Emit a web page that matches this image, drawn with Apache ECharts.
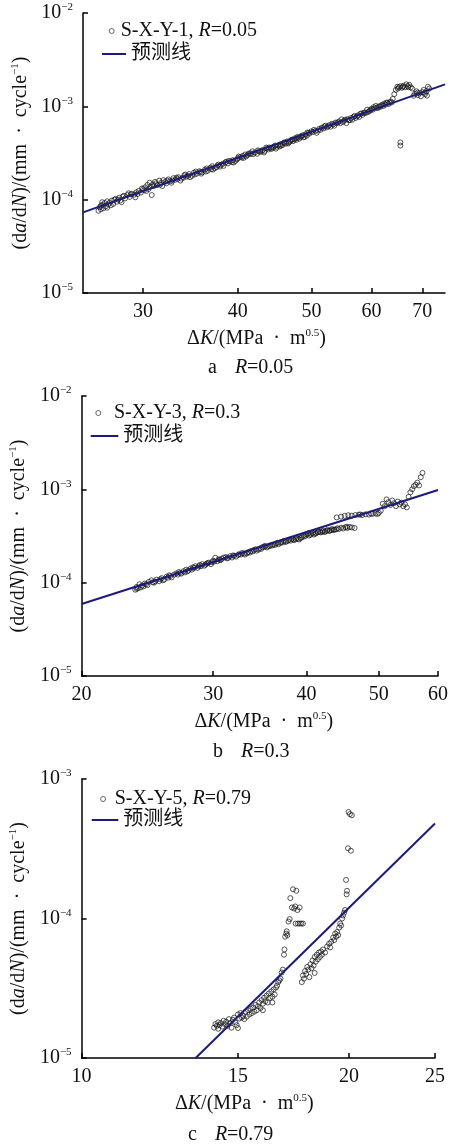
<!DOCTYPE html>
<html><head><meta charset="utf-8">
<script src="https://cdn.jsdelivr.net/npm/echarts@6/dist/echarts.min.js"></script>
<style>html,body{margin:0;padding:0;background:#fff}#c{width:452px;height:1147px}</style>
</head><body><div id="c"></div>
<script>
// ---------- DATA ----------
// Panel a: S-X-Y-1, R=0.05   [ΔK (MPa·m^0.5), da/dN (mm/cycle)]
const aPoints = [[26.2,7.6e-5],[26.3,8.3e-5],[26.4,7.9e-5],[26.5,8.8e-5],[26.6,8.1e-5],[26.7,9.2e-5],[26.8,8.5e-5],[26.9,9.6e-5],[27.0,8.9e-5],[27.1,9.3e-5],
[27.3,9.8e-5],[27.4,9.0e-5],[27.6,1.02e-4],[27.7,9.5e-5],[27.9,1.05e-4],[28.0,9.8e-5],[28.2,1.08e-4],[28.4,1.03e-4],[28.6,1.12e-4],[28.8,1.07e-4],
[29.0,1.16e-4],[29.2,1.13e-4],[29.4,1.2e-4],[29.6,1.24e-4],[29.8,1.19e-4],[30.0,1.3e-4],[30.2,1.36e-4],[30.4,1.44e-4],[30.6,1.52e-4],[30.8,1.12e-4],
[30.9,1.46e-4],[31.1,1.55e-4],[31.3,1.43e-4],[31.5,1.6e-4],[31.7,1.52e-4],[31.9,1.62e-4],[32.1,1.56e-4],[32.4,1.65e-4],[32.6,1.58e-4],[32.9,1.7e-4],
[33.1,1.64e-4],[33.4,1.74e-4],[33.7,1.68e-4],[34.0,1.82e-4],[34.2,1.76e-4],[34.5,1.88e-4],[34.8,1.8e-4],[35.0,1.95e-4],[35.3,1.9e-4],[35.6,2.02e-4],
[35.9,1.96e-4],[36.2,2.1e-4],[36.5,2.04e-4],[36.8,2.2e-4],[37.0,2.28e-4],[37.3,2.18e-4],[37.6,2.32e-4],[37.9,2.26e-4],[38.2,2.42e-4],[38.5,2.5e-4],
[38.8,2.45e-4],[39.1,2.58e-4],[39.4,2.65e-4],[39.7,2.6e-4],[40.0,2.78e-4],[40.3,2.86e-4],[40.6,2.95e-4],[40.9,3.05e-4],[41.2,3.0e-4],[41.5,3.15e-4],
[41.8,3.3e-4],[42.1,3.2e-4],[42.4,3.1e-4],[42.8,3.25e-4],[43.1,3.4e-4],[43.4,3.33e-4],[43.7,3.55e-4],[44.0,3.62e-4],[44.3,3.5e-4],[44.6,3.7e-4],
[44.9,3.52e-4],[45.2,3.8e-4],[45.5,3.92e-4],[45.8,3.85e-4],[46.1,4.05e-4],[46.4,4.2e-4],[46.7,4.12e-4],[47.0,4.35e-4],[47.3,4.25e-4],[47.6,4.55e-4],
[47.9,4.7e-4],[48.2,4.5e-4],[48.5,4.8e-4],[48.8,4.65e-4],[49.1,5.0e-4],[49.4,5.25e-4],[49.7,5.1e-4],[50.0,5.4e-4],[50.4,5.6e-4],[50.8,5.2e-4],
[51.2,5.75e-4],[51.6,5.9e-4],[52.0,6.1e-4],[52.4,5.95e-4],[52.8,6.3e-4],[53.2,6.5e-4],[53.6,6.2e-4],[54.0,6.6e-4],[54.4,6.9e-4],[54.8,7.25e-4],
[55.2,7.0e-4],[55.6,6.6e-4],[56.0,7.1e-4],[56.4,7.5e-4],[56.8,7.7e-4],[57.2,7.5e-4],[57.6,8.0e-4],[58.0,8.3e-4],[58.4,8.1e-4],[58.8,8.6e-4],
[59.2,9.2e-4],[59.6,8.9e-4],[60.0,9.4e-4],[60.4,9.8e-4],[60.8,1.01e-3],[61.2,9.6e-4],[61.6,9.9e-4],[62.0,1.04e-3],[62.4,1.07e-3],[62.8,1.1e-3],
[63.2,1.06e-3],[63.6,1.13e-3],[64.0,1.2e-3],[64.3,1.35e-3],[64.6,1.5e-3],[64.9,1.62e-3],[65.2,1.6e-3],[65.5,1.64e-3],[65.5,3.8e-4],[65.5,4.1e-4],
[65.8,1.58e-3],[66.1,1.66e-3],[66.4,1.6e-3],[66.7,1.72e-3],[67.0,1.65e-3],[67.3,1.7e-3],[67.6,1.6e-3],[67.9,1.55e-3],[68.2,1.3e-3],[68.5,1.36e-3],
[68.8,1.45e-3],[69.1,1.32e-3],[69.4,1.38e-3],[69.7,1.28e-3],[70.0,1.42e-3],[70.3,1.5e-3],[70.6,1.35e-3],[70.9,1.45e-3],[71.2,1.62e-3],[71.5,1.55e-3],
[26.5,9.4e-5],[27.2,8.7e-5],[27.8,1.0e-4],[28.3,1.1e-4],[28.9,1.14e-4],[29.5,1.15e-4],[30.1,1.26e-4],[30.5,1.3e-4],[31.0,1.4e-4],[31.6,1.45e-4],
[32.2,1.5e-4],[32.8,1.6e-4],[33.3,1.66e-4],[33.9,1.72e-4],[34.4,1.8e-4],[35.1,1.86e-4],[35.7,1.98e-4],[36.3,2.0e-4],[36.9,2.12e-4],[37.5,2.22e-4],
[38.0,2.36e-4],[38.6,2.55e-4],[39.3,2.52e-4],[39.9,2.7e-4],[40.5,2.82e-4],[41.0,2.9e-4],[41.6,3.08e-4],[42.6,3.3e-4],[43.3,3.2e-4],[43.9,3.45e-4],
[44.5,3.6e-4],[45.0,3.68e-4],[45.6,3.78e-4],[46.3,3.98e-4],[46.9,4.2e-4],[47.5,4.4e-4],[48.0,4.6e-4],[48.7,4.9e-4],[49.3,4.85e-4],[50.2,5.3e-4],
[51.0,5.5e-4],[51.9,5.8e-4],[52.6,6.1e-4],[53.4,6.4e-4],[54.2,6.75e-4],[55.0,6.8e-4],[55.8,7.3e-4],[56.6,7.2e-4],[57.4,7.8e-4],[58.2,8.4e-4],
[59.0,8.5e-4],[59.8,9.1e-4],[60.6,9.5e-4],[61.4,1.0e-3],[62.2,1.01e-3],[63.0,1.09e-3],[63.8,1.1e-3],[65.0,1.55e-3],[66.0,1.62e-3],[67.1,1.6e-3],
[69.0,1.4e-3],[70.5,1.4e-3],[71.0,1.3e-3],
[26.4,8.6e-5],[26.9,8.2e-5],[27.5,1.0e-4],[28.1,9.4e-5],[28.7,1.17e-4],[29.3,1.06e-4],[29.9,1.32e-4],[30.3,1.24e-4],[30.7,1.38e-4],[31.2,1.5e-4],
[31.8,1.4e-4],[32.3,1.6e-4],[32.7,1.52e-4],[33.2,1.72e-4],[33.6,1.6e-4],[34.1,1.86e-4],[34.6,1.74e-4],[35.2,2.0e-4],[35.8,1.9e-4],[36.4,2.16e-4],
[37.1,2.1e-4],[37.7,2.38e-4],[38.3,2.3e-4],[38.9,2.6e-4],[39.5,2.5e-4],[40.1,2.9e-4],[40.7,2.8e-4],[41.3,3.1e-4],[41.9,3.08e-4],[42.5,3.38e-4],
[43.0,3.3e-4],[43.6,3.62e-4],[44.2,3.58e-4],[44.8,3.8e-4],[45.4,3.72e-4],[46.0,4.1e-4],[46.6,4.0e-4],[47.2,4.42e-4],[47.8,4.38e-4],[48.4,4.72e-4],
[49.0,4.7e-4],[49.6,5.2e-4],[50.6,5.45e-4],[51.4,5.6e-4],[52.2,6.2e-4],[53.0,6.05e-4],[53.8,6.7e-4],[54.6,6.6e-4],[55.4,7.2e-4],[56.2,7.1e-4],
[57.0,7.9e-4],[57.8,7.7e-4],[58.6,8.5e-4],[59.4,8.7e-4],[60.2,9.2e-4],[61.0,9.7e-4],[61.8,1.02e-3],[62.6,1.04e-3],[63.4,1.1e-3]];
const aLine = [[25,7.3e-5],[75,1.72e-3]];
const aXTicks = [30,40,50,60,70];
const aYTicks = [1e-5,1e-4,1e-3,1e-2];
const aName = 'S-X-Y-1, R=0.05';

// Panel b: S-X-Y-3, R=0.3
const bPoints = [[23.6,8.4e-5],[23.7,9.0e-5],[23.8,8.7e-5],[23.9,9.6e-5],[24.0,8.9e-5],[24.1,9.3e-5],[24.3,9.8e-5],[24.5,9.4e-5],[24.6,1.02e-4],[24.8,1.06e-4],
[25.0,1.0e-4],[25.2,1.08e-4],[25.4,1.04e-4],[25.6,1.12e-4],[25.8,1.08e-4],[26.0,1.16e-4],[26.2,1.2e-4],[26.4,1.14e-4],[26.6,1.22e-4],[26.8,1.26e-4],
[27.0,1.3e-4],[27.2,1.25e-4],[27.4,1.33e-4],[27.6,1.38e-4],[27.8,1.35e-4],[28.0,1.42e-4],[28.2,1.46e-4],[28.4,1.5e-4],[28.6,1.44e-4],[28.8,1.55e-4],
[29.0,1.58e-4],[29.2,1.52e-4],[29.4,1.6e-4],[29.6,1.64e-4],[29.8,1.58e-4],[30.0,1.72e-4],[30.2,1.85e-4],[30.4,1.7e-4],[30.6,1.76e-4],[30.8,1.8e-4],
[31.0,1.86e-4],[31.3,1.82e-4],[31.6,1.92e-4],[31.9,1.96e-4],[32.2,1.9e-4],[32.5,2.02e-4],[32.8,2.08e-4],[33.1,2.0e-4],[33.4,2.12e-4],[33.7,2.18e-4],
[34.0,2.24e-4],[34.3,2.2e-4],[34.6,2.32e-4],[34.9,2.4e-4],[35.2,2.48e-4],[35.5,2.44e-4],[35.8,2.52e-4],[36.1,2.56e-4],[36.4,2.62e-4],[36.7,2.58e-4],
[37.0,2.72e-4],[37.3,2.8e-4],[37.6,2.76e-4],[37.9,2.88e-4],[38.2,2.95e-4],[38.5,2.85e-4],[38.8,3.0e-4],[39.1,2.9e-4],[39.4,3.05e-4],[39.7,3.12e-4],
[40.0,3.3e-4],[40.3,3.2e-4],[40.6,3.35e-4],[40.9,3.28e-4],[41.2,3.4e-4],[41.5,3.5e-4],[41.8,3.45e-4],[42.1,3.6e-4],[42.4,3.55e-4],[42.7,3.68e-4],
[43.0,3.62e-4],[43.3,3.75e-4],[43.6,3.7e-4],[43.9,5.0e-4],[44.0,3.82e-4],[44.2,3.76e-4],[44.5,3.88e-4],[44.8,3.8e-4],[45.1,3.92e-4],[45.4,3.86e-4],
[45.7,3.95e-4],[46.0,3.9e-4],[46.4,3.85e-4],[44.5,5.1e-4],[45.0,5.2e-4],[45.5,5.28e-4],[46.0,5.22e-4],[46.5,5.3e-4],[47.0,5.35e-4],[47.5,5.3e-4],
[48.0,5.4e-4],[48.5,5.36e-4],[49.0,5.45e-4],[49.5,5.5e-4],[50.0,5.6e-4],[50.3,5.9e-4],[50.6,7.0e-4],[50.9,6.6e-4],[51.2,7.8e-4],[51.5,7.3e-4],
[51.8,6.8e-4],[52.1,7.6e-4],[52.4,7.1e-4],[52.7,6.6e-4],[53.0,7.4e-4],[53.3,6.9e-4],[53.6,7.2e-4],[53.9,6.6e-4],[54.2,6.9e-4],[54.5,6.4e-4],
[54.8,8.3e-4],[55.1,9.3e-4],[55.4,1.0e-3],[55.7,1.08e-3],[56.0,1.12e-3],[56.3,1.18e-3],[56.6,1.1e-3],[56.9,1.35e-3],[57.2,1.5e-3],
[24.2,9.1e-5],[24.9,1.01e-4],[25.5,1.09e-4],[26.1,1.13e-4],[26.9,1.22e-4],[27.5,1.29e-4],[28.1,1.38e-4],[28.7,1.5e-4],[29.3,1.56e-4],[29.9,1.66e-4],
[30.5,1.78e-4],[31.2,1.88e-4],[31.8,1.86e-4],[32.4,1.98e-4],[33.0,2.06e-4],[33.6,2.1e-4],[34.2,2.28e-4],[34.8,2.3e-4],[35.4,2.38e-4],[36.0,2.5e-4],
[36.6,2.68e-4],[37.2,2.7e-4],[37.8,2.82e-4],[38.4,2.92e-4],[39.0,2.96e-4],[39.6,3.2e-4],[40.2,3.38e-4],[40.8,3.42e-4],[41.4,3.46e-4],[42.0,3.52e-4],
[42.6,3.6e-4],[43.2,3.66e-4],[43.8,3.72e-4],[45.3,3.98e-4],[47.2,5.38e-4],[48.8,5.5e-4],[49.8,5.45e-4],
[23.7,8.6e-5],[24.4,9.6e-5],[25.1,1.03e-4],[25.7,1.06e-4],[26.3,1.18e-4],[27.1,1.27e-4],[27.7,1.32e-4],[28.3,1.44e-4],[28.9,1.5e-4],[29.5,1.62e-4],
[30.1,1.68e-4],[30.7,1.74e-4],[31.4,1.84e-4],[32.0,1.94e-4],[32.7,2.0e-4],[33.3,2.06e-4],[33.9,2.16e-4],[34.5,2.26e-4],[35.1,2.42e-4],[35.7,2.46e-4],
[36.3,2.54e-4],[36.9,2.66e-4],[37.5,2.74e-4],[38.1,2.82e-4],[38.7,2.92e-4],[39.3,3.0e-4],[39.9,3.18e-4],[40.5,3.26e-4],[41.1,3.34e-4],[41.7,3.5e-4],
[42.3,3.48e-4],[42.9,3.58e-4],[43.5,3.66e-4]];
const bLine = [[20,5.9e-5],[60,9.85e-4]];
const bXTicks = [20,30,40,50,60];
const bYTicks = [1e-5,1e-4,1e-3,1e-2];
const bName = 'S-X-Y-3, R=0.3';

// Panel c: S-X-Y-5, R=0.79
const cPoints = [[14.1,1.65e-5],[14.15,1.75e-5],[14.2,1.7e-5],[14.25,1.8e-5],[14.3,1.72e-5],[14.35,1.78e-5],[14.4,1.68e-5],[14.45,1.85e-5],[14.5,1.75e-5],[14.55,1.82e-5],
[14.6,1.7e-5],[14.65,1.9e-5],[14.7,1.78e-5],[14.75,1.65e-5],[14.8,1.88e-5],[14.85,1.95e-5],[14.9,1.8e-5],[14.95,1.72e-5],[15.0,1.64e-5],[15.0,2.05e-5],
[15.05,1.92e-5],[15.1,2.1e-5],[15.15,1.95e-5],[15.2,2.0e-5],[15.3,2.15e-5],[15.35,1.98e-5],[15.4,2.2e-5],[15.45,2.05e-5],[15.5,2.25e-5],[15.55,2.1e-5],
[15.6,2.3e-5],[15.65,2.15e-5],[15.7,2.4e-5],[15.75,2.2e-5],[15.8,2.35e-5],[15.85,2.5e-5],[15.9,2.28e-5],[15.95,2.6e-5],[16.0,2.45e-5],[16.05,2.7e-5],
[16.1,2.55e-5],[16.15,2.8e-5],[16.2,2.5e-5],[16.25,2.9e-5],[16.3,2.7e-5],[16.35,3.0e-5],[16.4,2.75e-5],[16.45,3.1e-5],[16.5,2.85e-5],[16.55,3.2e-5],
[16.6,3.3e-5],[16.65,3.5e-5],[16.7,3.6e-5],[16.75,3.7e-5],[16.8,4.1e-5],[16.85,4.3e-5],[16.9,5.5e-5],[16.92,6.0e-5],[16.95,7.4e-5],[17.0,7.8e-5],
[17.02,8.1e-5],[17.05,7.6e-5],[17.1,9.5e-5],[17.15,9.9e-5],[17.18,1.4e-4],[17.25,1.2e-4],[17.3,1.62e-4],[17.35,1.18e-4],[17.4,1.22e-4],[17.42,9.2e-5],
[17.45,1.58e-4],[17.5,1.15e-4],[17.52,9.2e-5],[17.6,9.2e-5],[17.6,1.2e-4],[17.68,9.2e-5],[17.75,9.2e-5],
[17.7,3.5e-5],[17.75,3.9e-5],[17.8,3.7e-5],[17.85,4.2e-5],[17.9,4.0e-5],[17.95,4.5e-5],[18.0,4.3e-5],[18.05,3.8e-5],[18.1,4.7e-5],[18.15,4.4e-5],
[18.2,5.0e-5],[18.25,4.6e-5],[18.3,5.3e-5],[18.35,4.9e-5],[18.4,5.5e-5],[18.45,5.1e-5],[18.5,5.7e-5],[18.55,5.3e-5],[18.6,5.8e-5],[18.65,5.5e-5],
[18.7,6.0e-5],[18.8,5.7e-5],[18.9,6.3e-5],[19.0,6.6e-5],[19.05,6.2e-5],[19.1,6.8e-5],[19.2,7.3e-5],[19.25,7.0e-5],[19.3,7.8e-5],[19.35,7.4e-5],
[19.4,8.0e-5],[19.45,7.6e-5],[19.5,8.6e-5],[19.55,9.2e-5],[19.6,8.9e-5],[19.65,1.0e-4],[19.7,1.05e-4],[19.75,1.1e-4],[19.8,1.15e-4],[19.85,1.89e-4],
[19.9,1.58e-4],[19.88,1.49e-4],[19.95,3.19e-4],[20.1,3.06e-4],[19.98,5.8e-4],[20.05,5.6e-4],[20.15,5.5e-4],
[18.3,4.07e-5],[16.0,2.2e-5],[16.4,2.5e-5],[15.25,1.9e-5],[14.25,1.62e-5]];
const cLine = [[13.44,1e-5],[25,4.8e-4]];
const cXTicks = [10,15,20,25];
const cYTicks = [1e-5,1e-4,1e-3];
const cName = 'S-X-Y-5, R=0.79';

const lineName = '预测线';
const captionLetters = ['a','b','c'];
const captionR = ['0.05','0.3','0.79'];

// ---------- STYLE / LAYOUT ----------
const SERIF = '"Liberation Serif","Noto Sans CJK SC",serif';
const INK = '#111';
const rich = {
  n: {fontFamily: SERIF, fontSize: 20, lineHeight: 22, color: INK, fontWeight: 'normal'},
  i: {fontFamily: SERIF, fontSize: 20, lineHeight: 22, color: INK, fontWeight: 'normal', fontStyle: 'italic'},
  sup: {fontFamily: SERIF, fontSize: 11, lineHeight: 17, color: INK, fontWeight: 'normal', verticalAlign: 'top'},
  g: {fontFamily: SERIF, fontSize: 20, lineHeight: 22, fontWeight: 'normal', width: 18}
};
const LINE_COLOR = '#1b1b7d';
const layout = [
  {grid:{left:83,top:13,width:362,height:280}, xMin:25, xMax:75, yMin:1e-5, yMax:1e-2,
   points:aPoints, line:aLine, xTicks:aXTicks, yTicks:aYTicks, name:aName,
   yNameGap:51, xNameGap:35, xNamePad:[0,15,0,0], cap:{left:208,top:357},
   lg1:{left:108.7, top:21, w:8}, lg2:{left:102, top:44, w:24}},
  {grid:{left:77,top:396,width:361,height:280}, xMin:20, xMax:60, yMin:1e-5, yMax:1e-2,
   points:bPoints, line:bLine, xTicks:bXTicks, yTicks:bYTicks, name:bName,
   yNameGap:47, xNameGap:35, xNamePad:[0,0,0,8], cap:{left:213,top:741},
   lg1:{left:95.3, top:403, w:21.4}, lg2:{left:90.7, top:426, w:27.6}},
  {grid:{left:78,top:779,width:357,height:279}, xMin:10, xMax:25, yMin:1e-5, yMax:1e-3,
   points:cPoints, line:cLine, xTicks:cXTicks, yTicks:cYTicks, name:cName,
   yNameGap:48, xNameGap:35, xNamePad:[0,28,0,0], cap:{left:188,top:1124},
   lg1:{left:100.1, top:789, w:13.2}, lg2:{left:91.7, top:810, w:26.6}}
];

const axisLine = {show:true, lineStyle:{color:'#000', width:1.5}};
const grid=[], xAxis=[], yAxis=[], series=[], legend=[], title=[];
const fmtLegend = n => n.replace(/, R=(.*)$/, (m, v) => '{n|, }{i|R}{n|=' + v + '}').replace(/^(S-X-Y-\d)/, '{n|$1}');

layout.forEach((p, k) => {
  grid.push(Object.assign({containLabel:false}, p.grid));
  xAxis.push({
    type:'log', logBase:10, gridIndex:k, min:p.xMin, max:p.xMax,
    axisLine, splitLine:{show:false}, minorTick:{show:false},
    axisTick:{show:true, inside:true, length:5, customValues:p.xTicks, lineStyle:{color:'#000', width:1.5}},
    axisLabel:{customValues:p.xTicks, formatter:v=>'{n|'+v+'}', rich, margin:8},
    name:'{n|Δ}{i|K}{n|/(MPa\u2002·\u2002m}{sup|0.5}{n|)}', nameLocation:'middle', nameGap:p.xNameGap,
    nameTextStyle:{rich, padding:p.xNamePad}
  });
  yAxis.push({
    type:'log', logBase:10, gridIndex:k, min:p.yMin, max:p.yMax,
    axisLine, splitLine:{show:false}, minorTick:{show:false},
    axisTick:{show:true, inside:true, length:5, customValues:p.yTicks, lineStyle:{color:'#000', width:1.5}},
    axisLabel:{customValues:p.yTicks, margin:10, rich,
      formatter:v=>'{n|10}{sup|−'+Math.round(-Math.log10(v))+'}'},
    name:'{n|(d}{i|a}{n|/d}{i|N}{n|)/(mm\u2002·\u2002cycle}{sup|−1}{n|)}', nameLocation:'middle', nameRotate:90,
    nameGap:p.yNameGap, nameTextStyle:{rich}
  });
  series.push({
    type:'scatter', name:p.name, xAxisIndex:k, yAxisIndex:k, data:p.points,
    symbol:'circle', symbolSize:5, z:2,
    itemStyle:{color:'rgba(0,0,0,0)', borderColor:'rgba(25,25,25,0.9)', borderWidth:1}
  });
  series.push({
    type:'line', name:lineName, xAxisIndex:k, yAxisIndex:k, data:p.line,
    symbol:'none', showSymbol:false, z:3, itemStyle:{color:LINE_COLOR}, lineStyle:{color:LINE_COLOR, width:2}
  });
  legend.push({
    data:[{name:p.name, icon:'circle'}], left:p.lg1.left, top:p.lg1.top, padding:0,
    itemWidth:p.lg1.w, itemHeight:5, selectedMode:false, formatter:fmtLegend,
    itemStyle:{color:'rgba(0,0,0,0)', borderColor:'#444', borderWidth:1},
    textStyle:{rich}
  });
  legend.push({
    data:[{name:lineName, icon:'rect', itemStyle:{color:LINE_COLOR, borderWidth:0}}], left:p.lg2.left, top:p.lg2.top, padding:0,
    itemWidth:p.lg2.w, itemHeight:2, selectedMode:false, formatter:n=>'{n|'+n+'}',
    textStyle:{rich}
  });
  title.push({
    text:'{n|'+captionLetters[k]+'}{g| }{i|R}{n|='+captionR[k]+'}',
    left:p.cap.left, top:p.cap.top, padding:0, textStyle:{rich, fontWeight:'normal'}
  });
});

const chart = echarts.init(document.getElementById('c'), null, {renderer:'canvas'});
chart.setOption({animation:false, backgroundColor:'#fff', grid, xAxis, yAxis, series, legend, title});
</script></body></html>
